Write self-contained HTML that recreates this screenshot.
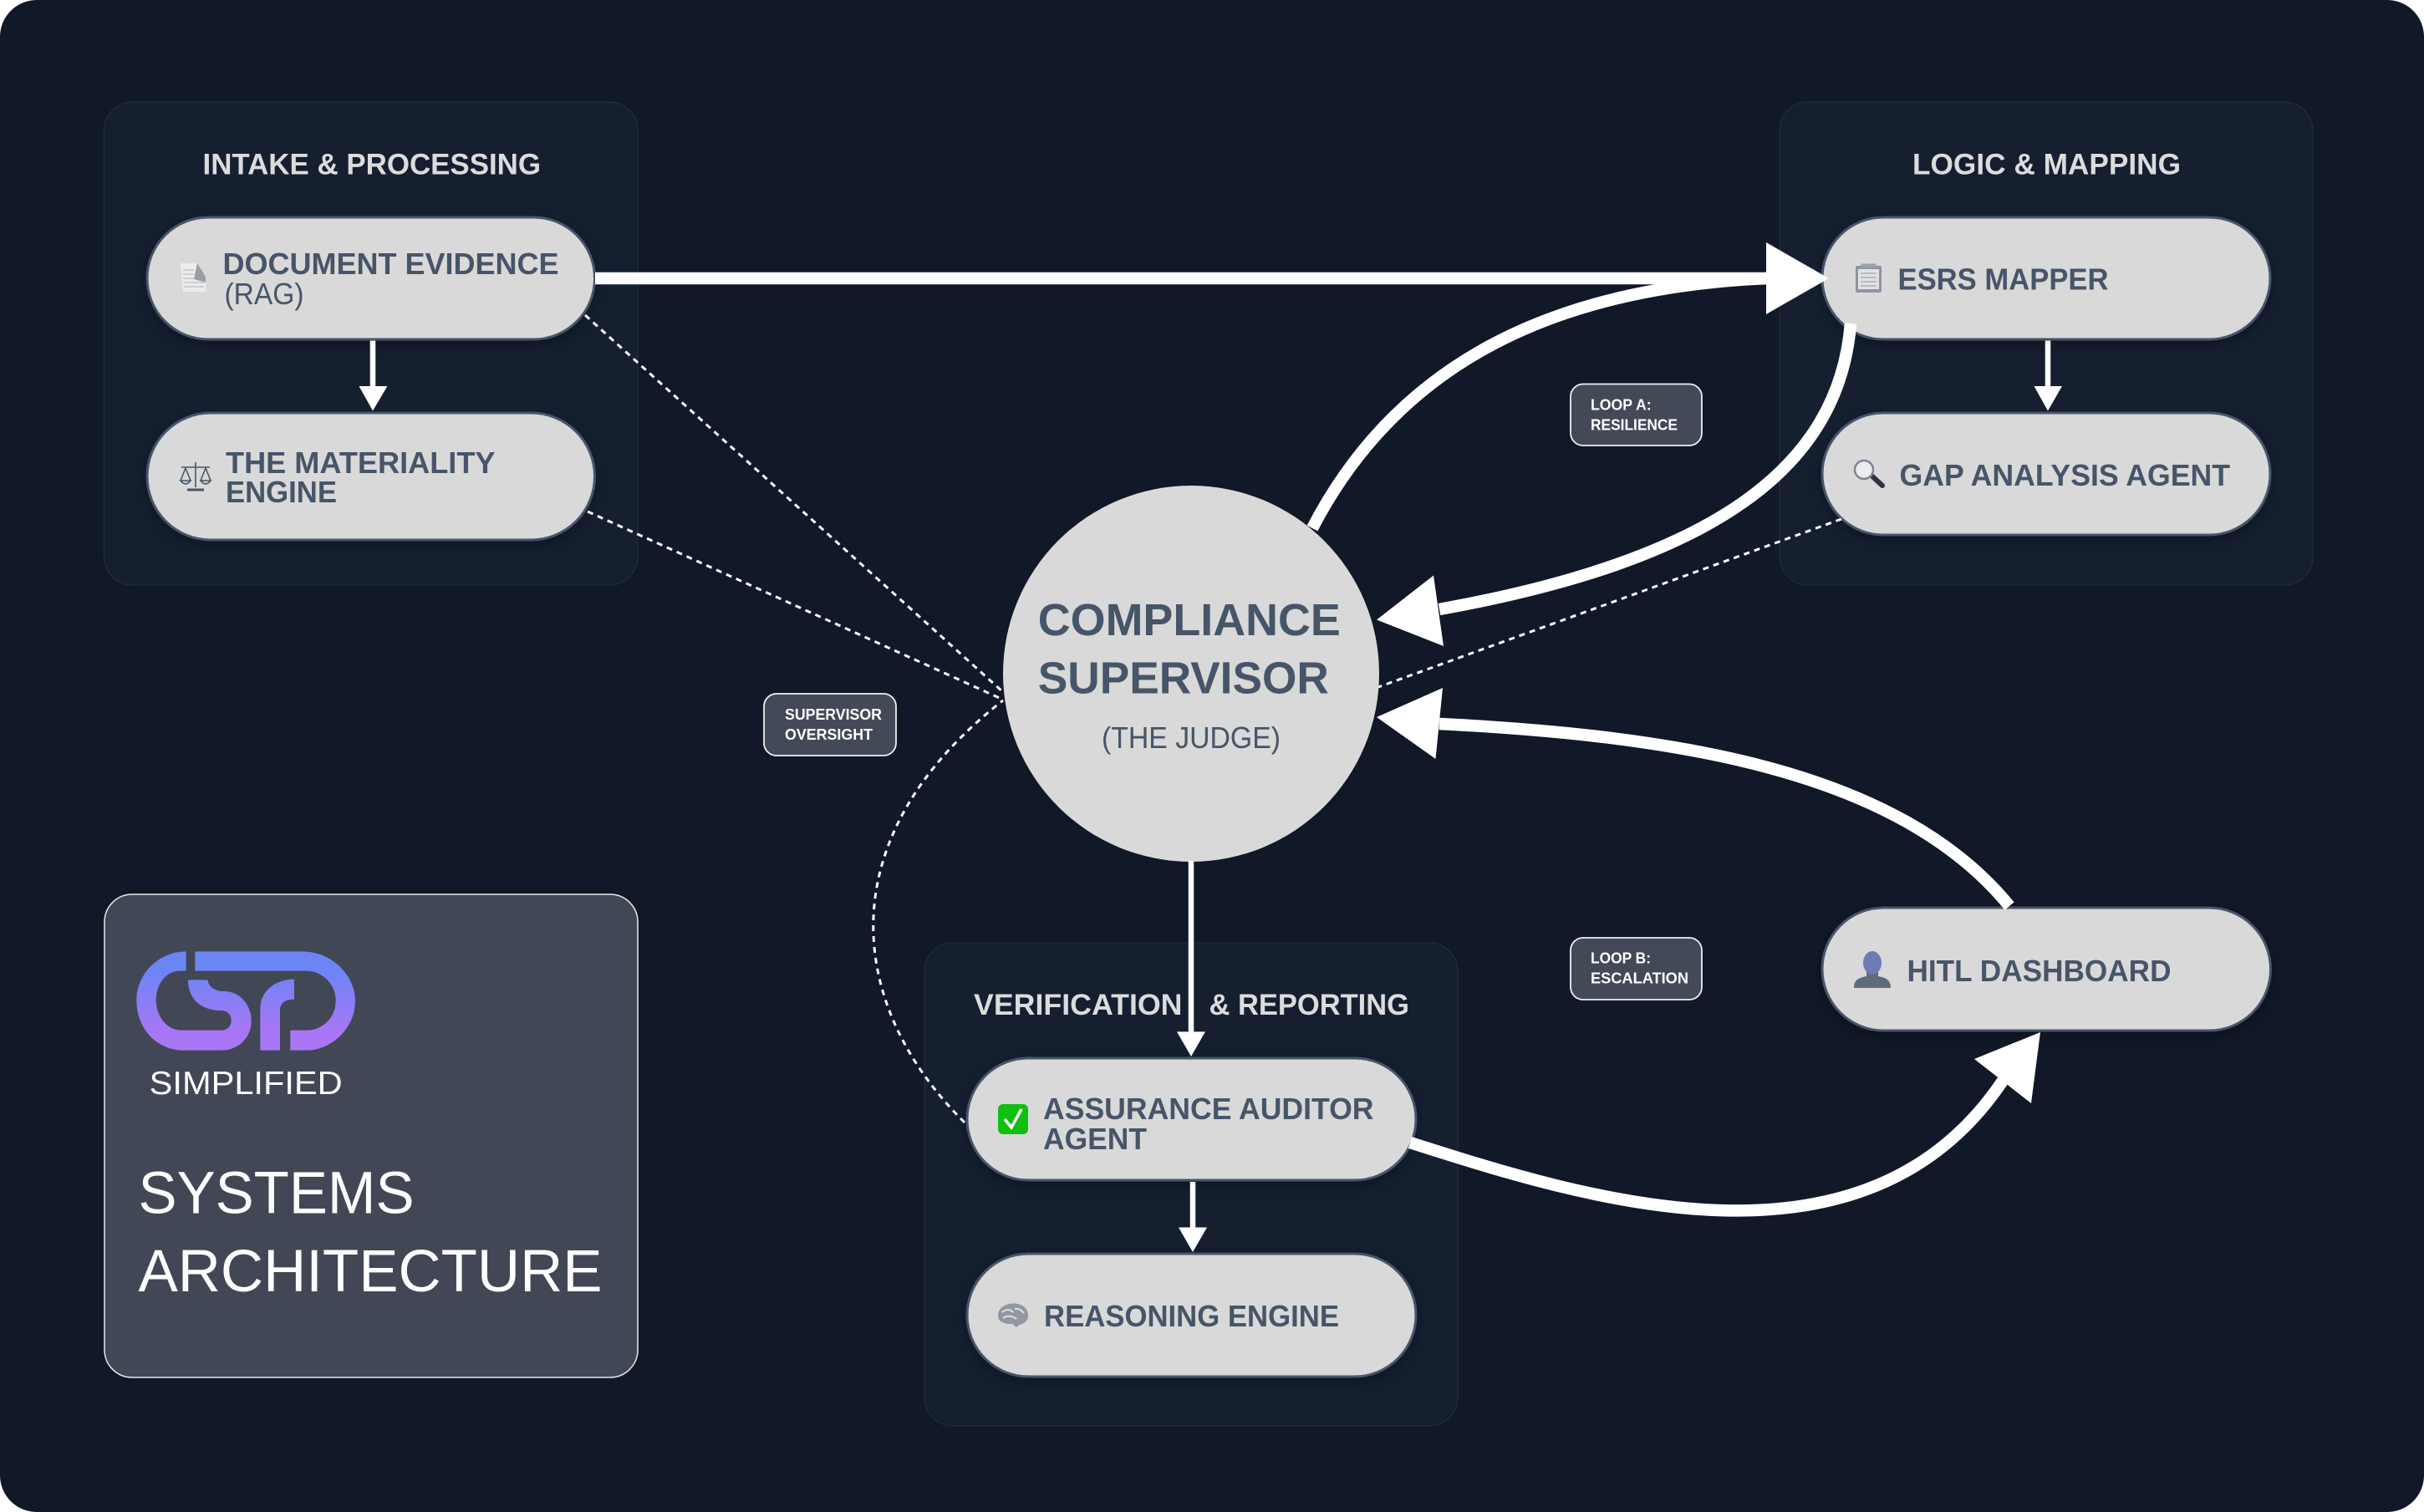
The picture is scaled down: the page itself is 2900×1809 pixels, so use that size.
<!DOCTYPE html>
<html><head><meta charset="utf-8"><title>Systems Architecture</title>
<style>
html,body{margin:0;padding:0;background:#fff;width:2900px;height:1809px;overflow:hidden}
svg{display:block}
text{font-family:"Liberation Sans",sans-serif}
.t{font-weight:700;font-size:35px;fill:#dcdcdc}
.n{font-weight:700;font-size:36px;fill:#475569}
.l{font-weight:700;font-size:18.5px;fill:#fff}
.pill{fill:#d9d9d9;stroke:#475569;stroke-width:3;filter:drop-shadow(0 5px 7px rgba(0,0,0,.28))}
.panel{fill:#151f30;stroke:#1f2a3b;stroke-width:1.5}
.lab{fill:#434957;stroke:#f0f0f0;stroke-width:1.8}
.thick{fill:none;stroke:#fff;stroke-width:14.5}
.thin{fill:none;stroke:#fff;stroke-width:6.5}
.dot{fill:none;stroke:#fff;stroke-width:3;stroke-dasharray:7 6}
</style></head><body>
<svg xmlns="http://www.w3.org/2000/svg" width="2900" height="1809" viewBox="0 0 2900 1809">
<defs>
<linearGradient id="g" gradientUnits="userSpaceOnUse" x1="0" y1="150" x2="0" y2="370"><stop offset="0" stop-color="#6b85f5"/><stop offset="1" stop-color="#a876f5"/></linearGradient>
</defs>
<rect x="0" y="0" width="2900" height="1809" rx="44" fill="#111827"/>

<!-- panels -->
<rect class="panel" x="124.5" y="122" width="638.5" height="578" rx="34"/>
<rect class="panel" x="2129" y="122" width="638" height="578" rx="34"/>
<rect class="panel" x="1106" y="1128" width="638" height="578" rx="34"/>

<!-- card -->
<rect x="125" y="1070" width="638" height="578" rx="33" fill="#414755" stroke="#e8e8e8" stroke-width="1.5"/>
<g transform="translate(140 1110) scale(.33333)" fill="url(#g)">
<path d="M248 85L248 155L225 155C175 155 140 205 140 260C140 318 180 368 230 368L375 368C397 368 410 352 410 333C410 313 397 297 375 297C300 297 255 255 255 187L325 187C330 215 355 228 385 228C440 228 482 275 482 335C482 395 435 440 375 440L240 440C140 440 70 360 70 260C70 165 150 85 248 85Z"/>
<path d="M280 85L665 85C770 85 855 170 855 262C855 360 770 440 680 440L622 440L622 368L680 368C740 368 785 320 785 262C785 200 735 155 680 155L280 155Z"/>
<path d="M514 440L514 290C514 230 565 185 636 185L636 257C605 257 585 270 585 295L585 440Z"/>
</g>
<text x="178.7" y="1309" font-size="39" fill="#fff" textLength="231" lengthAdjust="spacingAndGlyphs">SIMPLIFIED</text>
<text x="165.5" y="1451.7" font-size="71" fill="#fff" textLength="330" lengthAdjust="spacingAndGlyphs">SYSTEMS</text>
<text x="165.5" y="1545" font-size="71" fill="#fff" textLength="555" lengthAdjust="spacingAndGlyphs">ARCHITECTURE</text>

<!-- panel titles -->
<text class="t" x="242.5" y="208.5" textLength="404.5" lengthAdjust="spacingAndGlyphs">INTAKE &amp; PROCESSING</text>
<text class="t" x="2288" y="208.5" textLength="321" lengthAdjust="spacingAndGlyphs">LOGIC &amp; MAPPING</text>
<text class="t" x="1165" y="1214.2" textLength="249.5" lengthAdjust="spacingAndGlyphs">VERIFICATION</text>
<text class="t" x="1446.5" y="1214.2" textLength="239.5" lengthAdjust="spacingAndGlyphs">&amp; REPORTING</text>

<!-- pills -->
<rect class="pill" x="176" y="260" width="535.5" height="146" rx="73"/>
<rect class="pill" x="176" y="494" width="535.5" height="152" rx="76"/>
<rect class="pill" x="2180" y="260" width="536" height="146" rx="73"/>
<rect class="pill" x="2180" y="494" width="536" height="146" rx="73"/>
<rect class="pill" x="1157" y="1266" width="537" height="146" rx="73"/>
<rect class="pill" x="1157" y="1500" width="537" height="147" rx="73.5"/>
<rect class="pill" x="2180" y="1086" width="536.5" height="147" rx="73.5"/>
<circle cx="1425" cy="806" r="225" fill="#d9d9d9"/>

<!-- pill text -->
<text class="n" x="266.5" y="328" textLength="402" lengthAdjust="spacingAndGlyphs">DOCUMENT EVIDENCE</text>
<text x="268.5" y="364" font-size="36" fill="#475569" textLength="95" lengthAdjust="spacingAndGlyphs">(RAG)</text>
<text class="n" x="270" y="566" textLength="322.5" lengthAdjust="spacingAndGlyphs">THE MATERIALITY</text>
<text class="n" x="270" y="601" textLength="133" lengthAdjust="spacingAndGlyphs">ENGINE</text>
<text class="n" x="2270.5" y="346.7" textLength="252" lengthAdjust="spacingAndGlyphs">ESRS MAPPER</text>
<text class="n" x="2272.5" y="581" textLength="395.5" lengthAdjust="spacingAndGlyphs">GAP ANALYSIS AGENT</text>
<text class="n" x="1248" y="1339" textLength="395.5" lengthAdjust="spacingAndGlyphs">ASSURANCE AUDITOR</text>
<text class="n" x="1248" y="1375" textLength="124" lengthAdjust="spacingAndGlyphs">AGENT</text>
<text class="n" x="1249" y="1587" textLength="353" lengthAdjust="spacingAndGlyphs">REASONING ENGINE</text>
<text class="n" x="2281.5" y="1174" textLength="316" lengthAdjust="spacingAndGlyphs">HITL DASHBOARD</text>
<text x="1241.8" y="760" font-size="54" font-weight="700" fill="#475569" textLength="362" lengthAdjust="spacingAndGlyphs">COMPLIANCE</text>
<text x="1241.8" y="829.5" font-size="54" font-weight="700" fill="#475569" textLength="348" lengthAdjust="spacingAndGlyphs">SUPERVISOR</text>
<text x="1318" y="895" font-size="36" fill="#475569" textLength="214" lengthAdjust="spacingAndGlyphs">(THE JUDGE)</text>

<!-- icons -->
<g>
<path d="M216 315L236 315L246 331L246 349L219 349Z" fill="#ececec"/>
<path d="M236 315L246 331L246 338L232 334Z" fill="#9a9ea6"/>
<g stroke="#c4c7cd" stroke-width="1.4"><path d="M219 323H232M219 328H232M219 333H232M220 338H244M220 343H244"/></g>
</g>
<g fill="none" stroke="#475569" stroke-width="1.6">
<path d="M234 553V583M217 559H251M222 560L216 575M222 560L228 575M246 560L240 575M246 560L252 575"/>
<path d="M216 575Q222 583 228 575ZM240 575Q246 583 252 575Z" fill="#c4c8ce"/>
<path d="M224 586H244" stroke-width="3"/>
</g>
<g>
<rect x="2220" y="318" width="31" height="32" rx="2" fill="#8d95a3"/>
<rect x="2223" y="322" width="25" height="24" fill="#e2e2e2"/>
<rect x="2226" y="315.5" width="19" height="5" rx="2" fill="#9aa0ac"/>
<g stroke="#a8adb7" stroke-width="1.4"><path d="M2226 327H2245M2226 332H2245M2226 337H2245M2226 342H2245"/></g>
</g>
<g>
<path d="M2238 568L2252 581" stroke="#2f3540" stroke-width="6" stroke-linecap="round"/>
<circle cx="2230" cy="562" r="11" fill="#ececef" stroke="#7c8595" stroke-width="2.5"/>
</g>
<g>
<rect x="1194" y="1321" width="36" height="36" rx="6" fill="#10c010"/>
<path d="M1202 1339L1210 1349L1222 1327" fill="none" stroke="#fff" stroke-width="3.5"/>
</g>
<g>
<path d="M1194 1574C1194 1564 1204 1559 1214 1559.5C1224 1560 1230 1566 1230 1574C1230 1581 1224 1584 1220 1585L1216 1588L1211 1584C1202 1584 1194 1582 1194 1574Z" fill="#9298a3"/>
<path d="M1199 1570Q1206 1564 1212 1570M1214 1566Q1220 1565 1225 1571M1200 1577Q1208 1572 1216 1578" fill="none" stroke="#e2e2e2" stroke-width="2"/>
</g>
<g>
<path d="M2218 1182C2218 1172 2224 1170 2233 1168L2233 1160L2247 1160L2247 1168C2256 1170 2262 1172 2262 1182Z" fill="#5f6a7a"/>
<ellipse cx="2240" cy="1152" rx="11" ry="14" fill="#6c7bb4"/>
</g>

<!-- dotted connectors -->
<path class="dot" d="M700 377L1200 828"/>
<path class="dot" d="M703 612L1200 837"/>
<path class="dot" d="M2203 621L1649 822"/>
<path class="dot" d="M1154 1343C1010 1200 992 1000 1200 838"/>

<!-- thick connectors -->
<path class="thick" d="M712 333H2115"/>
<path class="thick" d="M1570 632C1662 455 1830 345 2115 333"/>
<path class="thick" d="M2214 387C2200 560 2050 670 1722 729"/>
<path class="thick" d="M2404 1084C2270 920 2000 880 1722 866"/>
<path class="thick" d="M1687 1367C1900 1435 2230 1540 2396 1293"/>
<g fill="#fff">
<polygon points="2113,290 2188,333 2113,376"/>
<polygon points="1647,741.5 1715,688.5 1727,773"/>
<polygon points="1647,858 1726,823 1717.5,908"/>
<polygon points="2441,1235 2362,1267 2430,1320"/>
</g>

<!-- thin connectors -->
<path class="thin" d="M446 407.6V463"/><polygon fill="#fff" points="429.5,462 463.4,462 446,491.5"/>
<path class="thin" d="M2450 407.6V463"/><polygon fill="#fff" points="2433.5,462 2467,462 2450,491.5"/>
<path class="thin" d="M1425 1030V1236"/><polygon fill="#fff" points="1408,1234.4 1442,1234.4 1425,1264"/>
<path class="thin" d="M1427 1414V1470"/><polygon fill="#fff" points="1410,1468.5 1444,1468.5 1427,1498"/>

<!-- labels -->
<rect class="lab" x="1879" y="459.5" width="157" height="73.5" rx="15"/>
<text class="l" x="1903" y="490.7" textLength="72.7" lengthAdjust="spacingAndGlyphs">LOOP A:</text>
<text class="l" x="1903" y="514.7" textLength="104" lengthAdjust="spacingAndGlyphs">RESILIENCE</text>
<rect class="lab" x="914" y="830" width="158" height="74" rx="15"/>
<text class="l" x="939" y="861" textLength="116" lengthAdjust="spacingAndGlyphs">SUPERVISOR</text>
<text class="l" x="939" y="885" textLength="105" lengthAdjust="spacingAndGlyphs">OVERSIGHT</text>
<rect class="lab" x="1879" y="1122" width="157" height="74" rx="15"/>
<text class="l" x="1903" y="1152.5" textLength="72" lengthAdjust="spacingAndGlyphs">LOOP B:</text>
<text class="l" x="1903" y="1176.5" textLength="117" lengthAdjust="spacingAndGlyphs">ESCALATION</text>
</svg>
</body></html>
